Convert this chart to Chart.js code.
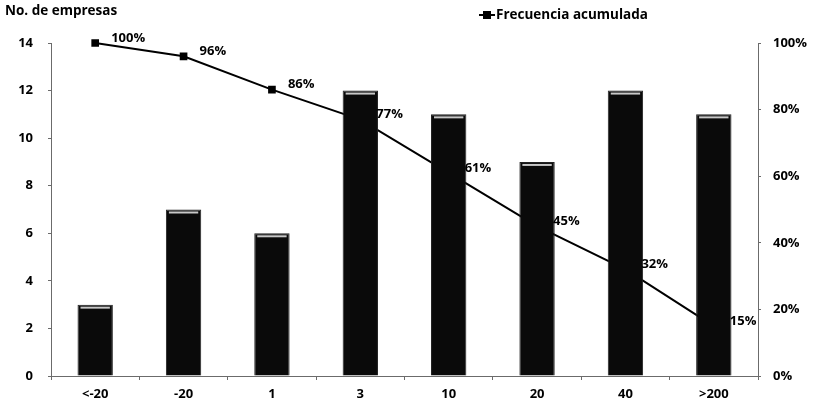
<!DOCTYPE html>
<html>
<head>
<meta charset="utf-8">
<script src="https://cdn.jsdelivr.net/npm/chart.js@4.4.0/dist/chart.umd.min.js"></script>
<style>
  html, body { margin: 0; padding: 0; background: #fff; }
  #wrap { position: relative; width: 822px; height: 411px; }
</style>
</head>
<body>
<div id="wrap"><canvas id="paretoChart" width="822" height="411"></canvas></div>
<script>
// Chart data
const categories = ['<-20', '-20', '1', '3', '10', '20', '40', '>200'];
const empresas = [3, 7, 6, 12, 11, 9, 12, 11];
const acumulada = [100, 96, 86, 77, 61, 45, 32, 15];
const leftTicks = [0, 2, 4, 6, 8, 10, 12, 14];
const rightTicks = [0, 20, 40, 60, 80, 100];

const FONT = '"Open Sans", Lato, sans-serif';
const axisColor = '#6b6b6b';

// Title, legend, point labels and the light stripe on top of bars
const extrasPlugin = {
  id: 'extras',
  afterDatasetsDraw(chart) {
    const ctx = chart.ctx;
    // stripe near top of each bar
    const bars = chart.getDatasetMeta(0).data;
    ctx.save();
    bars.forEach(bar => {
      const w = bar.width;
      ctx.fillStyle = '#c8c8c8';
      ctx.fillRect(bar.x - w / 2 + 3, bar.y + 2, w - 6, 2);
    });
    ctx.restore();

    // labels of cumulative line
    const pts = chart.getDatasetMeta(1).data;
    ctx.save();
    ctx.font = 'bold 13px ' + FONT;
    ctx.fillStyle = '#000';
    ctx.textBaseline = 'middle';
    ctx.textAlign = 'left';
    pts.forEach((p, i) => {
      ctx.fillText(acumulada[i] + '%', p.x + 16, p.y - 5);
    });
    ctx.restore();
  },
  afterDraw(chart) {
    const ctx = chart.ctx;
    ctx.save();
    ctx.font = 'bold 13.5px ' + FONT;
    ctx.fillStyle = '#000';
    ctx.textBaseline = 'middle';
    ctx.textAlign = 'left';
    ctx.fillText('No. de empresas', 5, 11);

    // legend
    ctx.strokeStyle = '#000';
    ctx.lineWidth = 2;
    ctx.beginPath();
    ctx.moveTo(479, 15);
    ctx.lineTo(495, 15);
    ctx.stroke();
    ctx.fillRect(483, 11, 8, 8);
    ctx.fillText('Frecuencia acumulada', 496, 15);
    ctx.restore();
  }
};

new Chart(document.getElementById('paretoChart'), {
  type: 'bar',
  data: {
    labels: categories,
    datasets: [
      {
        type: 'bar',
        label: 'No. de empresas',
        data: empresas,
        yAxisID: 'y',
        backgroundColor: '#0a0a0a',
        borderColor: '#222',
        borderWidth: 1,
        barPercentage: 0.4,
        categoryPercentage: 1,
        order: 1
      },
      {
        type: 'line',
        label: 'Frecuencia acumulada',
        data: acumulada,
        yAxisID: 'y1',
        borderColor: '#000',
        backgroundColor: '#000',
        borderWidth: 2,
        pointStyle: 'rect',
        pointRadius: 4,
        tension: 0,
        clip: false,
        order: 2
      }
    ]
  },
  options: {
    responsive: false,
    animation: false,
    layout: { padding: { top: 43, left: 0, right: 0, bottom: 0 } },
    plugins: {
      legend: { display: false },
      title: { display: false },
      tooltip: { enabled: false }
    },
    scales: {
      x: {
        afterFit(scale) { scale.height = 35; },
        border: { display: true, color: axisColor, width: 1 },
        grid: {
          display: true,
          offset: true,
          drawOnChartArea: false,
          drawTicks: true,
          tickLength: 4,
          color: axisColor
        },
        ticks: {
          color: '#000',
          font: { family: FONT, size: 13, weight: 'bold' },
          padding: 6,
          maxRotation: 0
        }
      },
      y: {
        position: 'left',
        min: 0,
        max: 14,
        afterFit(scale) { scale.width = 51; },
        afterBuildTicks(scale) { scale.ticks = leftTicks.map(v => ({ value: v })); },
        border: { display: true, color: axisColor, width: 1 },
        grid: {
          display: true,
          drawOnChartArea: false,
          drawTicks: true,
          tickLength: 3,
          color: axisColor
        },
        ticks: {
          color: '#000',
          font: { family: FONT, size: 13, weight: 'bold' },
          padding: 15
        }
      },
      y1: {
        position: 'right',
        min: 0,
        max: 100,
        afterFit(scale) { scale.width = 64; },
        afterBuildTicks(scale) { scale.ticks = rightTicks.map(v => ({ value: v })); },
        border: { display: true, color: axisColor, width: 1 },
        grid: {
          display: true,
          drawOnChartArea: false,
          drawTicks: true,
          tickLength: 3,
          color: axisColor
        },
        ticks: {
          color: '#000',
          font: { family: FONT, size: 13, weight: 'bold' },
          padding: 12,
          callback: v => v + '%'
        }
      }
    }
  },
  plugins: [extrasPlugin]
});
</script>
</body>
</html>
